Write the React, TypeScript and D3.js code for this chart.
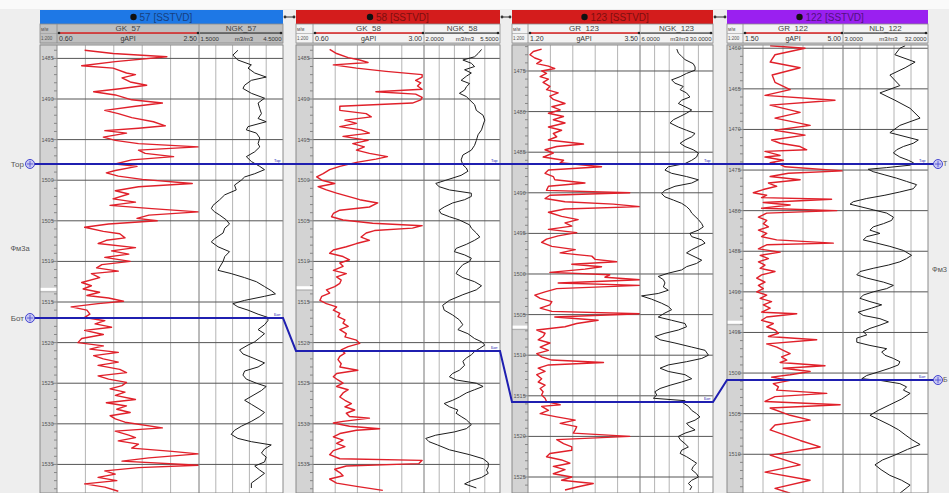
import React from "react";
import * as d3 from "d3";

type Pt = [number, number]; // [depth m, value]

// wells
const wellNames = ["57", "58", "123", "122"];
const wellColors = ["#1e78e6", "#d41c1c", "#d41c1c", "#9a20f0"];
const titleInk = ["#163f80", "#7c0f0f", "#7c0f0f", "#52107f"];
const grNames = ["GK_57", "GK_58", "GR_123", "GR_122"];
const nNames = ["NGK_57", "NGK_58", "NGK_123", "NLb_122"];
const grRange: [number, number][] = [[0.6, 2.5], [0.6, 3.0], [1.2, 3.5], [1.5, 5.0]];
const nRange: [number, number][] = [[1.5, 4.5], [2.0, 5.5], [6.0, 30.0], [3.0, 32.0]];
const depthTop = [1483.35, 1483.35, 1471.8, 1459.6];
const depthBottom = [1538.52, 1538.52, 1526.97, 1514.77];
const torDepth = [1498.0, 1498.0, 1486.45, 1474.26];
const botDepth = [1516.97, 1521.03, 1515.76, 1500.86];
const breakDepth = [1513.5, 1513.3, 1506.6, 1493.8];

// curves (depth, value)
const gk57: Pt[] = [[1484.0,0.97],[1484.4,1.35],[1484.8,2.07],[1485.4,1.38],[1485.9,0.93],[1486.2,1.35],[1486.8,1.53],[1487.0,1.65],[1487.4,1.47],[1487.9,1.58],[1488.3,1.80],[1488.7,1.47],[1489.1,1.09],[1489.5,1.38],[1490.1,1.60],[1490.5,2.01],[1490.9,1.65],[1491.4,1.24],[1491.8,1.42],[1492.3,1.60],[1492.8,1.89],[1493.3,2.05],[1493.6,1.69],[1493.9,1.24],[1494.2,1.53],[1494.7,1.22],[1495.1,1.38],[1495.5,1.69],[1495.9,2.49],[1496.3,1.69],[1496.7,1.78],[1497.1,2.16],[1497.5,1.60],[1498.0,1.38],[1498.3,1.67],[1498.8,1.38],[1499.1,1.26],[1499.5,1.42],[1499.9,1.74],[1500.4,2.41],[1500.8,1.69],[1501.3,1.38],[1501.7,1.56],[1502.3,1.35],[1502.7,1.65],[1503.1,1.31],[1503.5,1.87],[1503.9,2.49],[1504.3,1.83],[1504.7,1.67],[1505.0,1.94],[1505.4,1.29],[1505.8,0.97],[1506.3,1.22],[1506.6,1.44],[1507.1,1.51],[1507.4,1.26],[1507.8,1.15],[1508.3,1.65],[1508.7,1.33],[1509.1,1.56],[1509.5,1.24],[1510.0,1.58],[1510.4,1.20],[1510.8,1.13],[1511.2,1.42],[1511.5,1.06],[1512.0,1.17],[1512.6,0.93],[1513.0,1.06],[1513.4,0.95],[1513.8,1.17],[1514.2,1.00],[1514.5,1.29],[1514.9,1.49],[1515.2,1.15],[1515.6,0.79],[1516.0,1.00],[1516.5,1.04],[1516.9,0.97],[1517.3,1.24],[1517.7,1.11],[1518.1,1.33],[1518.5,0.97],[1519.0,1.22],[1519.5,0.93],[1520.0,0.88],[1520.4,1.22],[1520.8,1.04],[1521.2,1.42],[1521.6,1.09],[1522.0,1.22],[1522.4,1.42],[1522.8,1.15],[1523.3,1.44],[1523.7,1.53],[1524.1,1.15],[1524.5,1.29],[1524.9,1.53],[1525.3,1.47],[1525.7,1.31],[1526.1,1.51],[1526.5,1.38],[1527.0,1.65],[1527.4,1.26],[1527.8,1.53],[1528.2,1.40],[1528.6,1.58],[1529.0,1.31],[1529.4,1.38],[1529.8,1.51],[1530.5,2.01],[1530.9,1.38],[1531.4,1.56],[1531.7,1.65],[1532.1,1.42],[1532.5,1.69],[1533.0,1.60],[1533.4,2.14],[1533.7,2.49],[1534.2,1.83],[1534.6,1.47],[1535.1,2.49],[1535.4,1.69],[1535.8,1.24],[1536.2,1.38],[1536.6,1.15],[1537.0,1.40],[1537.4,0.97],[1537.8,1.24],[1538.3,1.42]];
const ngk57: Pt[] = [[1484.0,2.89],[1484.6,2.71],[1485.2,2.89],[1485.8,3.37],[1486.2,3.25],[1486.8,3.49],[1487.3,3.90],[1487.7,3.37],[1488.3,3.13],[1488.7,3.07],[1489.3,3.37],[1489.9,3.84],[1490.5,3.61],[1491.2,3.67],[1491.8,3.73],[1492.4,3.61],[1492.8,3.90],[1493.4,3.25],[1493.8,3.19],[1494.2,3.55],[1494.8,3.67],[1495.5,3.61],[1495.9,3.67],[1496.5,3.49],[1497.1,3.19],[1497.7,3.37],[1498.3,3.67],[1498.7,3.84],[1499.2,3.49],[1499.6,3.13],[1500.0,3.01],[1500.6,2.77],[1501.2,2.83],[1501.8,2.42],[1502.4,2.24],[1503.1,2.00],[1503.5,1.94],[1503.9,2.06],[1504.3,2.24],[1504.9,2.48],[1505.4,2.59],[1505.9,2.42],[1506.5,2.36],[1507.2,2.06],[1507.6,1.94],[1508.2,2.18],[1508.8,2.59],[1509.4,2.42],[1510.0,2.36],[1510.7,2.24],[1511.1,2.18],[1511.5,2.65],[1512.0,3.13],[1512.5,3.55],[1513.1,3.84],[1513.6,4.08],[1514.0,4.23],[1514.3,3.84],[1514.8,3.13],[1515.2,2.71],[1515.6,2.89],[1516.0,3.25],[1516.5,3.61],[1516.9,3.96],[1517.3,3.96],[1517.8,3.84],[1518.4,3.61],[1518.9,3.84],[1519.4,3.67],[1519.9,3.49],[1520.3,3.25],[1520.9,2.95],[1521.4,3.07],[1521.9,3.43],[1522.5,3.84],[1523.0,3.61],[1523.5,3.13],[1524.0,3.07],[1524.5,3.19],[1525.0,3.55],[1525.4,3.90],[1525.9,3.73],[1526.5,3.43],[1527.1,3.13],[1527.6,3.37],[1528.1,3.61],[1528.6,3.84],[1529.1,3.67],[1529.7,3.37],[1530.3,3.01],[1530.8,2.77],[1531.3,2.65],[1531.8,2.89],[1532.2,3.37],[1532.6,4.08],[1533.1,3.84],[1533.6,3.73],[1534.1,3.90],[1534.7,3.84],[1535.2,3.49],[1535.7,3.67],[1536.1,3.84],[1536.7,3.61],[1537.3,3.37],[1537.9,3.37]];
const gk58: Pt[] = [[1483.9,0.96],[1484.4,1.11],[1484.9,1.36],[1485.2,1.61],[1485.5,1.79],[1485.8,1.04],[1486.2,1.54],[1486.6,2.18],[1487.0,2.96],[1487.3,2.96],[1487.7,2.82],[1488.0,2.93],[1488.4,2.86],[1488.8,2.96],[1489.1,1.96],[1489.4,2.82],[1489.8,2.96],[1490.1,2.93],[1490.5,2.75],[1490.9,1.18],[1491.4,1.18],[1491.8,1.75],[1492.2,1.86],[1492.6,1.29],[1493.0,1.54],[1493.4,1.18],[1493.8,1.64],[1494.2,1.82],[1494.6,1.25],[1495.1,1.79],[1495.5,1.46],[1495.9,1.71],[1496.3,1.54],[1496.7,1.82],[1497.1,2.21],[1497.4,1.96],[1497.8,1.54],[1498.3,1.18],[1498.7,0.96],[1499.2,0.82],[1499.6,0.68],[1500.0,0.79],[1500.4,1.07],[1500.8,0.71],[1501.2,0.89],[1501.6,1.11],[1502.0,1.36],[1502.4,1.61],[1502.8,2.00],[1503.3,1.82],[1503.7,1.18],[1504.1,1.04],[1504.5,1.00],[1504.9,1.25],[1505.3,1.89],[1505.6,2.96],[1505.9,2.75],[1506.2,1.93],[1506.5,1.75],[1507.0,1.64],[1507.4,1.82],[1507.8,1.54],[1508.2,1.32],[1508.6,1.04],[1509.0,0.96],[1509.4,1.25],[1509.8,1.39],[1510.2,1.18],[1510.6,1.25],[1511.1,1.04],[1511.5,1.32],[1511.9,1.11],[1512.3,1.21],[1512.7,1.18],[1513.1,1.07],[1513.5,0.89],[1513.9,0.96],[1514.3,0.79],[1514.8,0.75],[1515.2,0.89],[1515.6,1.11],[1516.0,1.04],[1516.4,1.18],[1516.8,1.14],[1517.2,1.29],[1517.6,1.25],[1518.0,1.36],[1518.4,1.18],[1518.9,1.32],[1519.3,1.29],[1519.7,1.54],[1520.1,1.61],[1520.5,1.36],[1520.9,1.21],[1521.3,1.29],[1521.7,1.18],[1522.1,1.14],[1522.6,1.21],[1523.0,1.18],[1523.4,1.57],[1523.8,1.11],[1524.2,1.04],[1524.6,1.14],[1525.0,1.25],[1525.4,1.11],[1525.8,1.36],[1526.2,1.25],[1526.7,1.18],[1527.1,1.29],[1527.5,1.43],[1527.9,1.29],[1528.3,1.50],[1528.7,1.32],[1529.1,1.39],[1529.3,1.82],[1529.7,1.25],[1529.9,1.04],[1530.3,1.39],[1530.6,2.04],[1530.8,1.54],[1531.2,1.18],[1531.6,1.04],[1532.0,1.25],[1532.4,1.11],[1532.8,1.29],[1533.3,1.04],[1533.8,0.96],[1534.3,1.18],[1534.5,2.96],[1534.9,2.89],[1535.2,1.32],[1535.6,1.07],[1536.0,1.18],[1536.4,1.25],[1536.8,0.96],[1537.3,1.11],[1537.7,1.54],[1538.2,2.11]];
const ngk58: Pt[] = [[1483.9,4.65],[1484.4,4.49],[1484.8,4.33],[1485.2,3.79],[1485.6,4.18],[1486.0,4.33],[1486.4,3.87],[1486.8,4.18],[1487.2,3.95],[1487.7,3.71],[1488.1,4.10],[1488.5,3.95],[1488.9,3.87],[1489.3,3.63],[1489.7,3.95],[1490.1,4.10],[1490.7,4.33],[1491.4,4.41],[1492.0,4.72],[1492.6,4.80],[1493.2,4.72],[1493.8,4.65],[1494.4,4.49],[1495.1,4.41],[1495.7,4.33],[1496.3,4.18],[1496.9,3.79],[1497.5,3.71],[1498.1,3.79],[1498.5,3.95],[1498.9,4.02],[1499.4,3.71],[1500.0,3.01],[1500.4,2.54],[1500.8,2.70],[1501.2,3.17],[1501.6,4.18],[1502.0,4.18],[1502.4,3.87],[1502.8,3.32],[1503.3,2.93],[1503.7,2.70],[1504.1,2.78],[1504.5,3.17],[1504.9,3.63],[1505.5,4.10],[1505.9,4.18],[1506.5,4.41],[1507.0,4.57],[1507.4,4.33],[1507.9,3.95],[1508.4,3.48],[1508.8,3.40],[1509.2,3.87],[1509.6,4.18],[1510.0,4.10],[1510.4,3.79],[1511.1,3.56],[1511.5,3.48],[1512.0,3.79],[1512.5,4.33],[1513.0,4.65],[1513.5,4.41],[1514.1,3.79],[1514.8,3.17],[1515.4,2.86],[1516.0,2.93],[1516.6,3.32],[1517.2,3.63],[1517.8,3.79],[1518.4,3.56],[1518.9,4.02],[1519.5,4.33],[1519.9,4.65],[1520.3,4.80],[1520.7,4.57],[1521.1,4.33],[1521.5,4.18],[1521.9,3.95],[1522.3,3.79],[1522.8,3.87],[1523.4,3.63],[1523.8,3.32],[1524.2,3.17],[1524.6,3.48],[1525.0,4.41],[1525.4,4.72],[1525.8,4.33],[1526.2,3.95],[1526.7,3.63],[1527.1,3.32],[1527.5,2.93],[1527.9,3.17],[1528.3,3.56],[1528.7,3.48],[1529.1,3.71],[1529.5,3.95],[1530.1,4.18],[1530.6,3.95],[1531.0,3.40],[1531.4,2.54],[1531.8,2.08],[1532.2,2.23],[1532.6,2.62],[1533.2,3.17],[1533.8,4.10],[1534.3,4.72],[1534.8,4.96],[1535.3,4.96],[1535.7,4.88],[1536.1,4.96],[1536.6,4.65],[1537.0,4.18],[1537.4,3.87],[1537.9,4.41]];
const gr123: Pt[] = [[1472.3,1.48],[1472.6,1.31],[1473.0,1.24],[1473.4,1.34],[1473.7,1.48],[1474.1,1.38],[1474.4,1.62],[1474.7,1.75],[1475.0,1.48],[1475.3,1.58],[1475.7,1.45],[1476.0,1.62],[1476.4,1.51],[1476.9,1.65],[1477.3,1.58],[1477.7,1.82],[1478.1,1.65],[1478.5,1.72],[1479.0,1.96],[1479.4,1.69],[1479.8,1.86],[1480.2,1.62],[1480.6,1.93],[1481.0,1.72],[1481.4,1.96],[1481.9,1.62],[1482.3,1.89],[1482.7,1.72],[1483.1,1.79],[1483.5,1.62],[1484.0,2.34],[1484.3,1.79],[1484.7,1.55],[1485.1,1.72],[1485.6,1.51],[1486.0,1.93],[1486.3,1.86],[1486.8,2.71],[1487.2,1.62],[1487.6,1.55],[1488.0,1.72],[1488.4,1.75],[1488.8,2.37],[1489.2,1.62],[1489.7,1.58],[1490.0,3.29],[1490.3,1.65],[1490.7,1.55],[1491.1,1.96],[1491.4,2.95],[1491.7,3.50],[1492.0,1.96],[1492.4,1.62],[1492.9,1.89],[1493.3,2.23],[1493.7,1.96],[1494.1,2.10],[1494.5,1.62],[1494.9,2.20],[1495.3,1.82],[1495.7,1.58],[1496.1,1.48],[1496.6,1.69],[1497.0,2.17],[1497.4,1.86],[1497.8,2.51],[1498.2,2.58],[1498.5,3.02],[1498.8,2.10],[1499.1,2.71],[1499.4,2.37],[1499.8,1.65],[1500.1,2.88],[1500.4,2.78],[1500.7,3.50],[1501.1,1.82],[1501.4,3.50],[1501.8,1.79],[1502.2,1.55],[1502.6,1.34],[1503.0,1.45],[1503.4,1.69],[1503.8,1.65],[1504.2,1.45],[1504.6,1.69],[1504.9,3.50],[1505.3,1.75],[1505.7,2.64],[1506.1,2.20],[1506.5,1.96],[1506.9,1.38],[1507.3,1.55],[1507.7,1.51],[1508.1,1.41],[1508.5,1.65],[1509.0,1.45],[1509.4,1.62],[1509.8,1.38],[1510.2,1.48],[1510.6,1.69],[1510.9,2.75],[1511.2,1.62],[1511.6,1.41],[1512.0,1.55],[1512.4,1.38],[1512.9,1.48],[1513.3,1.41],[1513.7,1.55],[1514.1,1.45],[1514.5,1.51],[1514.9,1.48],[1515.3,1.55],[1515.7,1.58],[1516.1,1.86],[1516.3,1.48],[1516.8,1.62],[1517.2,1.45],[1517.6,1.79],[1518.0,2.17],[1518.4,1.86],[1518.8,2.20],[1519.2,2.17],[1519.6,2.13],[1520.0,3.29],[1520.4,1.79],[1520.9,1.93],[1521.3,2.10],[1521.7,2.10],[1522.1,1.65],[1522.5,1.58],[1522.9,1.89],[1523.3,2.06],[1523.7,1.72],[1524.1,1.96],[1524.6,1.72],[1525.0,2.10],[1525.4,1.89],[1525.8,2.54],[1526.2,2.23],[1526.6,1.96]];
const ngk123: Pt[] = [[1472.3,18.1],[1472.8,18.6],[1473.2,19.7],[1473.6,20.8],[1474.1,23.5],[1474.5,24.1],[1474.9,24.1],[1475.3,21.3],[1475.7,19.2],[1476.1,16.4],[1476.5,17.5],[1476.9,20.2],[1477.3,19.2],[1477.7,21.3],[1478.2,22.4],[1478.6,19.7],[1479.0,18.6],[1479.4,20.8],[1479.8,23.0],[1480.2,21.3],[1480.6,19.2],[1481.0,17.0],[1481.4,15.9],[1481.9,18.6],[1482.3,21.3],[1482.7,24.1],[1483.1,23.0],[1483.5,20.8],[1483.9,19.2],[1484.3,20.8],[1484.7,23.5],[1485.1,25.2],[1485.6,24.6],[1486.0,23.0],[1486.4,20.8],[1486.8,15.3],[1487.2,14.2],[1487.6,16.4],[1488.0,21.3],[1488.4,25.2],[1488.8,23.0],[1489.2,17.5],[1489.7,14.2],[1490.1,13.1],[1490.5,14.2],[1490.9,17.0],[1491.3,19.7],[1491.7,21.3],[1492.1,22.4],[1492.5,23.0],[1492.9,24.1],[1493.3,25.2],[1493.8,26.3],[1494.2,26.8],[1494.6,25.2],[1495.0,22.4],[1495.4,23.0],[1495.8,26.3],[1496.2,27.4],[1496.6,25.2],[1497.0,23.0],[1497.4,21.3],[1497.9,24.1],[1498.3,26.3],[1498.7,24.6],[1499.1,21.3],[1499.5,19.7],[1499.9,15.3],[1500.3,12.0],[1500.7,13.7],[1501.1,14.2],[1501.6,13.7],[1502.0,15.3],[1502.4,12.0],[1502.7,6.5],[1503.1,9.8],[1503.6,13.1],[1504.0,15.3],[1504.4,16.4],[1504.8,14.2],[1505.3,12.0],[1505.7,16.4],[1506.1,20.8],[1506.5,21.3],[1506.9,18.6],[1507.3,14.2],[1507.7,10.9],[1508.1,12.6],[1508.5,17.5],[1509.0,23.0],[1509.4,27.4],[1510.0,28.5],[1510.4,26.3],[1510.8,21.3],[1511.2,15.3],[1511.6,12.6],[1512.0,15.3],[1512.4,20.8],[1512.9,23.0],[1513.3,19.7],[1513.7,15.9],[1514.1,12.6],[1514.5,10.9],[1514.9,11.5],[1515.3,10.4],[1515.6,20.8],[1515.9,20.2],[1516.3,21.9],[1516.8,23.0],[1517.2,24.6],[1517.6,25.7],[1518.0,24.1],[1518.4,21.3],[1518.8,22.4],[1519.2,24.1],[1519.6,20.8],[1520.0,18.6],[1520.4,19.2],[1520.9,20.8],[1521.3,21.9],[1521.7,19.7],[1522.1,19.2],[1522.5,21.3],[1522.9,23.0],[1523.3,24.6],[1523.7,23.5],[1524.1,23.0],[1524.6,24.6],[1525.0,25.2],[1525.4,23.0],[1525.8,21.9],[1526.2,23.0],[1526.6,22.4]];
const gr122: Pt[] = [[1459.7,2.45],[1460.0,3.67],[1460.8,2.62],[1461.7,2.45],[1462.4,3.50],[1463.3,2.52],[1464.2,2.62],[1465.1,3.15],[1465.8,2.27],[1466.4,4.72],[1467.0,2.45],[1467.9,3.50],[1468.6,2.62],[1469.5,3.85],[1470.1,2.62],[1470.7,3.67],[1471.3,2.50],[1471.7,2.80],[1472.1,3.50],[1472.5,3.73],[1472.7,2.27],[1473.2,2.80],[1473.4,2.27],[1473.8,2.91],[1474.1,2.45],[1474.3,2.80],[1474.6,2.97],[1475.1,5.01],[1475.4,3.09],[1475.8,2.45],[1476.2,3.50],[1476.6,2.39],[1477.0,2.68],[1477.4,2.21],[1477.8,1.86],[1478.1,2.33],[1478.4,2.15],[1478.6,4.60],[1479.0,2.21],[1479.3,3.15],[1479.7,2.15],[1480.0,4.78],[1480.3,2.33],[1480.8,2.04],[1481.2,2.33],[1481.6,2.21],[1482.0,2.39],[1482.4,2.04],[1482.8,2.33],[1483.2,2.15],[1483.6,2.68],[1484.0,4.66],[1484.2,2.33],[1484.7,2.04],[1485.1,2.80],[1485.5,2.10],[1485.9,2.39],[1486.3,2.04],[1486.7,2.27],[1487.1,2.10],[1487.5,2.62],[1487.9,2.15],[1488.3,1.98],[1488.8,2.27],[1489.2,2.04],[1489.6,2.21],[1490.0,1.98],[1490.4,2.33],[1490.8,2.10],[1491.2,2.50],[1491.6,2.21],[1492.0,2.45],[1492.5,2.15],[1492.7,3.38],[1493.1,2.33],[1493.5,2.15],[1493.9,2.56],[1494.3,2.33],[1494.7,2.62],[1495.1,2.74],[1495.5,2.39],[1495.9,4.08],[1496.4,2.33],[1496.8,2.68],[1497.2,2.91],[1497.6,3.15],[1498.0,2.85],[1498.4,3.03],[1498.7,2.80],[1499.1,4.37],[1499.4,2.91],[1499.8,3.85],[1500.2,3.15],[1500.5,2.50],[1500.9,3.15],[1501.3,2.56],[1501.7,2.74],[1502.1,2.68],[1502.5,4.43],[1502.9,2.62],[1503.5,2.27],[1503.9,4.90],[1504.3,2.45],[1505.2,3.15],[1505.8,3.85],[1506.4,2.62],[1507.0,2.45],[1508.3,3.50],[1509.1,4.20],[1510.1,2.45],[1511.3,3.50],[1512.2,2.27],[1513.2,3.85],[1514.2,2.62],[1514.8,3.15]];
const nlb122: Pt[] = [[1459.7,24.2],[1460.0,22.4],[1460.8,20.7],[1461.7,27.6],[1462.4,24.2],[1463.3,19.0],[1464.6,22.4],[1465.5,15.6],[1466.4,20.7],[1467.4,25.9],[1468.6,29.3],[1469.5,22.4],[1470.4,19.0],[1471.3,28.7],[1471.7,27.0],[1472.1,23.6],[1472.5,21.3],[1472.9,20.2],[1473.4,22.4],[1473.8,25.3],[1474.1,27.0],[1474.4,25.9],[1474.7,17.9],[1474.9,11.6],[1475.2,13.3],[1475.6,17.3],[1476.0,21.3],[1476.4,24.7],[1476.8,28.1],[1477.3,27.0],[1477.7,22.4],[1478.1,17.3],[1478.5,11.1],[1478.9,6.5],[1479.2,5.4],[1479.5,8.8],[1479.9,13.3],[1480.3,17.9],[1480.8,20.2],[1481.2,19.6],[1481.6,16.8],[1482.0,13.3],[1482.4,12.2],[1482.8,15.6],[1483.2,11.1],[1483.6,9.9],[1484.0,14.5],[1484.4,19.0],[1484.9,23.6],[1485.5,26.4],[1485.9,24.7],[1486.3,22.4],[1486.7,18.5],[1487.1,13.3],[1487.5,8.8],[1487.9,7.7],[1488.3,11.1],[1488.8,16.8],[1489.2,20.2],[1489.6,17.9],[1490.0,13.3],[1490.4,9.9],[1490.8,8.8],[1491.2,12.2],[1491.6,16.2],[1492.0,12.8],[1492.5,8.2],[1492.9,9.9],[1493.3,15.6],[1493.7,18.5],[1494.1,15.6],[1494.5,12.2],[1494.9,9.9],[1495.3,11.1],[1495.7,7.7],[1496.2,7.7],[1496.6,12.2],[1497.0,17.9],[1497.4,16.2],[1497.8,17.3],[1498.2,20.2],[1498.6,22.4],[1499.0,21.9],[1499.4,19.0],[1499.8,15.6],[1500.3,11.1],[1500.7,9.4],[1500.9,15.6],[1501.3,22.4],[1501.7,24.7],[1502.1,23.6],[1502.5,25.9],[1503.2,23.0],[1503.9,19.0],[1504.6,15.0],[1505.2,12.2],[1505.8,15.6],[1506.4,19.0],[1507.0,22.0],[1507.6,24.2],[1508.2,26.5],[1508.8,29.3],[1509.4,25.0],[1510.1,20.7],[1510.7,16.5],[1511.3,13.9],[1511.9,16.0],[1512.6,19.0],[1513.2,23.0],[1513.8,25.9],[1514.8,22.4]];
const grData = [gk57, gk58, gr123, gr122];
const nData = [ngk57, ngk58, ngk123, nlb122];

const W = 949;
const H = 493;
const PLOT_TOP = 45;
const FONT = "'Liberation Sans', Arial, sans-serif";
const layout = [
  { x: 40, depthW: 17, grW: 142, nW: 84 },
  { x: 296, depthW: 17, grW: 111, nW: 76 },
  { x: 512, depthW: 16, grW: 112, nW: 73 },
  { x: 727, depthW: 16, grW: 100, nW: 85 },
];
const MARK = "#1f1fb0";

export default function App() {
  const wells = layout.map((L, i) => {
    const xd = L.x + L.depthW;
    const xg = xd + L.grW;
    const xr = xg + L.nW;
    const y = d3.scaleLinear().domain([depthTop[i], depthBottom[i]]).range([PLOT_TOP, H]);
    const xGr = d3.scaleLinear().domain(grRange[i]).range([xd, xg]);
    const xN = d3.scaleLinear().domain(nRange[i]).range([xg, xr]);
    const minor = d3.range(Math.ceil(depthTop[i]), Math.floor(depthBottom[i]) + 1);
    const major = minor.filter((d) => d % 5 === 0);
    const grPath = d3.line<Pt>().x((p) => xGr(p[1])).y((p) => y(p[0]))(grData[i]) || "";
    const nPath = d3.line<Pt>().x((p) => xN(p[1])).y((p) => y(p[0]))(nData[i]) || "";
    return { L, xd, xg, xr, y, minor, major, grPath, nPath };
  });

  const markerPath = (depths: number[]) => {
    const pts: [number, number][] = [[30, wells[0].y(depths[0])]];
    wells.forEach((w, i) => {
      pts.push([w.L.x, w.y(depths[i])], [w.xr, w.y(depths[i])]);
    });
    pts.push([937, wells[3].y(depths[3])]);
    return d3.line()(pts) || "";
  };

  const f2 = d3.format(".2f");
  const f4 = d3.format(".4f");

  const marker = (cx: number, cy: number) => (
    <g>
      <circle cx={cx} cy={cy} r={4.5} fill="#c9c9f2" stroke="#4545d0" strokeWidth={1} />
      <line x1={cx - 3} x2={cx + 3} y1={cy} y2={cy} stroke="#4545d0" strokeWidth={0.8} />
      <line x1={cx} x2={cx} y1={cy - 3} y2={cy + 3} stroke="#4545d0" strokeWidth={0.8} />
    </g>
  );

  return (
    <svg width={W} height={H} style={{ position: "absolute", left: 0, top: 0 }} fontFamily={FONT}>
      <defs>
        {wells.map((w, i) => (
          <React.Fragment key={i}>
            <clipPath id={`cg${i}`}>
              <rect x={w.xd} y={PLOT_TOP} width={w.xg - w.xd} height={H - PLOT_TOP} />
            </clipPath>
            <clipPath id={`cn${i}`}>
              <rect x={w.xg} y={PLOT_TOP} width={w.xr - w.xg} height={H - PLOT_TOP} />
            </clipPath>
          </React.Fragment>
        ))}
      </defs>
      <rect x={0} y={0} width={W} height={H} fill="#eeeeee" />
      <rect x={0} y={0} width={W} height={9} fill="#fafafa" />

      {wells.map((w, i) => {
        const { L, xd, xg, xr, y } = w;
        const gridX = d3.range(1, 5);
        const selected = i === 0;
        const rowFill = selected ? "#bfbfbf" : "#f3f3f3";
        const cx = (L.x + xr) / 2;
        return (
          <g key={i}>
            {/* tracks */}
            <rect x={L.x} y={PLOT_TOP} width={L.depthW} height={H - PLOT_TOP} fill="#d3d3d3" />
            <rect x={xd} y={PLOT_TOP} width={xr - xd} height={H - PLOT_TOP} fill="#ffffff" />
            {gridX.map((k) => (
              <line key={"g" + k} x1={xd + (k * (xg - xd)) / 5} x2={xd + (k * (xg - xd)) / 5}
                y1={PLOT_TOP} y2={H} stroke="#b4b4b4" strokeWidth={1} />
            ))}
            {gridX.map((k) => (
              <line key={"n" + k} x1={xg + (k * (xr - xg)) / 5} x2={xg + (k * (xr - xg)) / 5}
                y1={PLOT_TOP} y2={H} stroke="#b4b4b4" strokeWidth={1} />
            ))}
            {w.major.map((d) => (
              <line key={"h" + d} x1={xd} x2={xr} y1={y(d)} y2={y(d)} stroke="#555" strokeWidth={1} />
            ))}
            {/* depth track */}
            {w.minor.map((d) => (
              <line key={"t" + d} x1={xd - (d % 5 === 0 ? 5 : 3)} x2={xd} y1={y(d)} y2={y(d)}
                stroke="#666" strokeWidth={0.7} />
            ))}
            {w.major.map((d) => (
              <text key={"l" + d} x={L.x + 1.5} y={y(d)} dy="0.35em" fontSize={5.5} fill="#555">{d}</text>
            ))}
            <rect x={L.x} y={y(breakDepth[i]) - 2} width={L.depthW} height={3} fill="#ffffff" />
            <line x1={L.x} x2={xd} y1={y(breakDepth[i]) + 2} y2={y(breakDepth[i]) + 2} stroke="#999" strokeWidth={0.6} />
            {/* curves */}
            <path d={w.nPath} fill="none" stroke="#1c1c1c" strokeWidth={1} clipPath={`url(#cn${i})`} />
            <path d={w.grPath} fill="none" stroke="#e0202a" strokeWidth={1.4} strokeLinejoin="round" clipPath={`url(#cg${i})`} />
            {/* borders */}
            <rect x={L.x} y={PLOT_TOP} width={xr - L.x} height={H - PLOT_TOP} fill="none" stroke="#8a8a8a" />
            <line x1={xd} x2={xd} y1={PLOT_TOP} y2={H} stroke="#8a8a8a" />
            <line x1={xg} x2={xg} y1={PLOT_TOP} y2={H} stroke="#777" />

            {/* header */}
            <rect x={L.x} y={10} width={xr - L.x} height={14} fill={wellColors[i]} />
            <circle cx={cx - 28} cy={17} r={3.2} fill="#111" />
            <text x={cx - 22} y={17} dy="0.36em" fontSize={10} fill={titleInk[i]}>{`${wellNames[i]} [SSTVD]`}</text>
            <rect x={L.x} y={24} width={xr - L.x} height={19} fill={rowFill} stroke="#8a8a8a" strokeWidth={0.8} />
            <line x1={L.x} x2={xr} y1={33.5} y2={33.5} stroke="#9a9a9a" strokeWidth={0.6} />
            <line x1={xd} x2={xd} y1={24} y2={43} stroke="#8a8a8a" strokeWidth={0.8} />
            <line x1={xg} x2={xg} y1={24} y2={43} stroke="#8a8a8a" strokeWidth={0.8} />
            <text x={L.x + 1} y={29} dy="0.35em" fontSize={4.5} fill="#555">м/м</text>
            <text x={L.x + 1} y={38.5} dy="0.35em" fontSize={4.5} fill="#555">1:200</text>
            <text x={(xd + xg) / 2} y={28.5} dy="0.35em" fontSize={8} fill="#444" textAnchor="middle">{grNames[i]}</text>
            <text x={(xg + xr) / 2} y={28.5} dy="0.35em" fontSize={8} fill="#444" textAnchor="middle">{nNames[i]}</text>
            <line x1={xd + 2} x2={xg - 1} y1={33} y2={33} stroke="#d82020" strokeWidth={1.5} />
            <circle cx={xd + 2} cy={33} r={1.3} fill="#222" />
            <circle cx={xg - 1} cy={33} r={1.3} fill="#222" />
            <line x1={xg + 1} x2={xr - 2} y1={33} y2={33} stroke="#222" strokeWidth={1.2} />
            <circle cx={xr - 2} cy={33} r={1.3} fill="#222" />
            <text x={xd + 2} y={38.5} dy="0.35em" fontSize={7} fill="#333">{f2(grRange[i][0])}</text>
            <text x={(xd + xg) / 2} y={38.5} dy="0.35em" fontSize={7} fill="#333" textAnchor="middle">gAPI</text>
            <text x={xg - 2} y={38.5} dy="0.35em" fontSize={7} fill="#333" textAnchor="end">{f2(grRange[i][1])}</text>
            <text x={xg + 1.5} y={38.5} dy="0.35em" fontSize={6} fill="#333">{f4(nRange[i][0])}</text>
            <text x={(xg + xr) / 2 + 3} y={38.5} dy="0.35em" fontSize={6} fill="#333" textAnchor="middle">m3/m3</text>
            <text x={xr - 1.5} y={38.5} dy="0.35em" fontSize={6} fill="#333" textAnchor="end">{f4(nRange[i][1])}</text>
            <line x1={L.x} x2={xr} y1={44} y2={44} stroke="#9a9a9a" strokeWidth={1} />

            {/* tiny marker names at track end */}
            <text x={xr - 9} y={y(torDepth[i]) - 2} fontSize={4} fill={MARK}>Тор</text>
            <text x={xr - 9} y={y(botDepth[i]) - 2} fontSize={4} fill={MARK}>Бот</text>
          </g>
        );
      })}

      {/* connectors between title bars */}
      {wells.slice(0, 3).map((w, i) => (
        <g key={"c" + i}>
          <line x1={w.xr + 1} x2={wells[i + 1].L.x - 1} y1={17} y2={17} stroke="#333" strokeWidth={1} />
          <circle cx={w.xr + 2} cy={17} r={1.4} fill="#333" />
          <circle cx={wells[i + 1].L.x - 2} cy={17} r={1.4} fill="#333" />
        </g>
      ))}

      {/* correlation lines */}
      <path d={markerPath(torDepth)} fill="none" stroke={MARK} strokeWidth={2} />
      <path d={markerPath(botDepth)} fill="none" stroke={MARK} strokeWidth={2} />

      {marker(30, wells[0].y(torDepth[0]))}
      {marker(30, wells[0].y(botDepth[0]))}
      {marker(938, wells[3].y(torDepth[3]))}
      {marker(938, wells[3].y(botDepth[3]))}
      <text x={24} y={wells[0].y(torDepth[0])} dy="0.35em" fontSize={8} fill="#555" textAnchor="end">Тор</text>
      <text x={24} y={wells[0].y(botDepth[0])} dy="0.35em" fontSize={8} fill="#555" textAnchor="end">Бот</text>
      <text x={943} y={wells[3].y(torDepth[3])} dy="0.35em" fontSize={7} fill="#555">Т</text>
      <text x={943} y={wells[3].y(botDepth[3])} dy="0.35em" fontSize={7} fill="#555">Б</text>
      <text x={20} y={wells[0].y(1508.4)} dy="0.35em" fontSize={7.5} fill="#555" textAnchor="middle">Фм3а</text>
      <text x={932} y={wells[3].y(1487.2)} dy="0.35em" fontSize={7.5} fill="#555">Фм3</text>
    </svg>
  );
}
